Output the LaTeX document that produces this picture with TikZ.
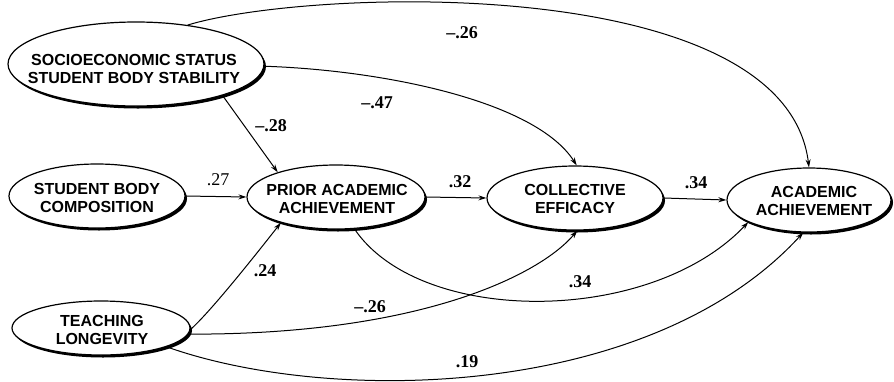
\documentclass[tikz,border=0pt]{standalone}
\usepackage{fontspec}
\newfontfamily\lsans{Liberation Sans}
\newfontfamily\lserif{Liberation Serif}
\usetikzlibrary{shapes.geometric,shadows,arrows.meta}
\tikzset{
  oval/.style={ellipse, draw=black, line width=1.2pt, fill=white, inner sep=0pt,
    drop shadow={shadow xshift=2pt, shadow yshift=-2.5pt, fill=black, opacity=1}},
  ntext/.style={font=\lsans\bfseries\fontsize{16}{18.5}\selectfont, align=center, inner sep=0pt},
  coef/.style={font=\lserif\bfseries\fontsize{18}{20}\selectfont, inner sep=0pt},
  coefr/.style={font=\lserif\fontsize{18}{20}\selectfont, inner sep=0pt},
  arr/.style={line width=1pt, -{Stealth[length=8pt,width=5pt]}}
}
\begin{document}
\begin{tikzpicture}[x=1pt,y=-1pt]
\useasboundingbox (0,0) rectangle (894,381);
% ellipses
\node[oval, minimum width=256pt, minimum height=84pt] (ses) at (136,64) {};
\node[oval, minimum width=176pt, minimum height=64pt] (sbc) at (97,196) {};
\node[oval, minimum width=178pt, minimum height=64pt] (prior) at (336,197) {};
\node[oval, minimum width=176pt, minimum height=64pt] (coll) at (575,198) {};
\node[oval, minimum width=164pt, minimum height=64pt] (acad) at (809,200) {};
\node[oval, minimum width=178pt, minimum height=54pt] (teach) at (101,328) {};
% texts
\node[ntext] (sest) at (134,69) {SOCIOECONOMIC STATUS\\STUDENT BODY STABILITY};
\node[ntext] (sbct) at (97,198) {STUDENT BODY\\COMPOSITION};
\node[ntext] (priort) at (337,199) {PRIOR ACADEMIC\\ACHIEVEMENT};
\node[ntext] (collt) at (575,199) {COLLECTIVE\\EFFICACY};
\node[ntext] (acadt) at (814,201) {ACADEMIC\\ACHIEVEMENT};
\node[ntext] (teacht) at (102,330) {TEACHING\\LONGEVITY};
% connectors
\draw[arr] (ses.-20) -- (prior.157);
\draw[arr] (sbc.east) -- (prior.west);
\draw[arr] (prior.east) -- (coll.west);
\draw[arr] (coll.east) -- (acad.west);
\draw[arr] (ses.37) .. controls (310,-12) and (785,-28) .. (acad.90);
\draw[arr] (ses.-1) .. controls (380,70) and (535,100) .. (coll.87);
\draw[arr] (prior.-60) .. controls (420,326) and (650,326) .. (acad.200);
\draw[arr] (teach.-1) .. controls (210,312) and (250,262) .. (prior.205);
\draw[arr] (teach.-4) .. controls (420,335) and (540,275) .. (coll.-86);
\draw[arr] (teach.-16) .. controls (330,405) and (650,400) .. (acad.260);
% coefficients
\node[coef] (c1) at (462,33) {\textendash.26};
\node[coef] (c2) at (377,103) {\textendash.47};
\node[coef] (c3) at (271,126) {\textendash.28};
\node[coefr] (c4) at (218,180) {.27};
\node[coef] (c5) at (460,182) {.32};
\node[coef] (c6) at (696,183) {.34};
\node[coef] (c7) at (265,271) {.24};
\node[coef] (c8) at (370,307) {\textendash.26};
\node[coef] (c9) at (580,282) {.34};
\node[coef] (c10) at (467,362) {.19};
\end{tikzpicture}
\end{document}
